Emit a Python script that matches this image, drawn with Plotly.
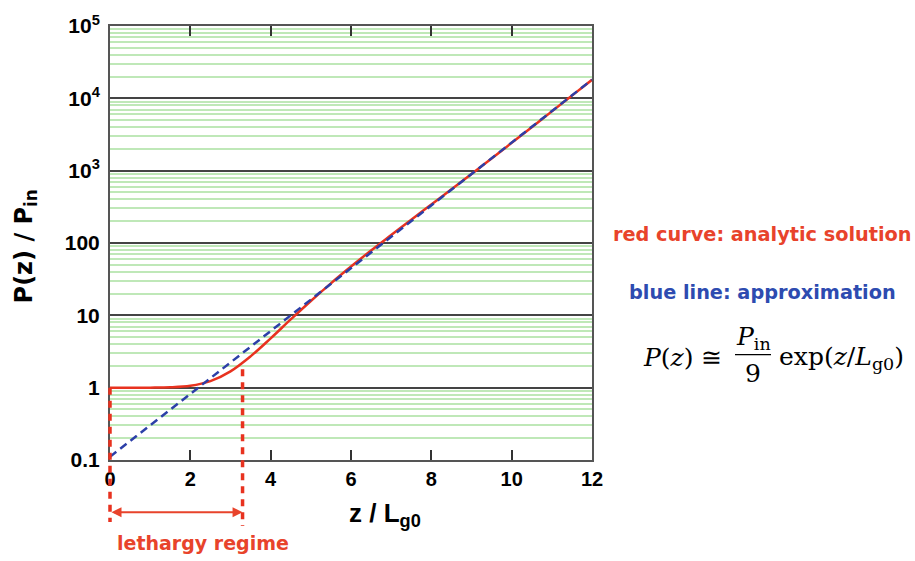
import plotly.graph_objects as go
import math

# analytic solution (red)
z_red = [0, 0.5, 1, 1.5, 2, 2.5, 3, 3.5, 4, 4.5, 5, 5.5, 6, 6.5, 7, 7.5, 8, 8.5, 9, 9.5, 10, 10.5, 11, 11.5, 12]
p_red = [1.0, 1.0, 1.001, 1.01, 1.06, 1.23, 1.68, 2.71, 4.81, 8.79, 15.8, 27.7, 47.2, 78.8, 129, 210, 341, 554, 902, 1475, 2425, 3995, 6600, 10900, 18030]
# approximation (blue dashed)
z_blue = [0, 12]
p_blue = [0.111, 18084]
# lethargy regime boundaries
leth_z = [0, 3.3]
leth_top = [1.0, 1.8]

y_tickvals = [0.1, 1, 10, 100, 1000, 10000, 100000]
y_ticktext = ["0.1", "1", "10", "100", "10<sup>3</sup>", "10<sup>4</sup>", "10<sup>5</sup>"]
x_tickvals = [0, 2, 4, 6, 8, 10, 12]
x_range = [0, 12]

RED = "#e8321f"
BLUE = "#2c3fa8"
TXTRED = "#e8432b"
TXTBLUE = "#2d4bb0"
SANS = "Liberation Sans, Arial, sans-serif"
WIDE = "DejaVu Sans, Liberation Sans, sans-serif"
SERIF = "DejaVu Serif, Liberation Serif, serif"

fig = go.Figure()
fig.add_trace(go.Scatter(x=z_red, y=p_red, mode="lines", line=dict(color=RED, width=2.5, shape="spline"), showlegend=False))
fig.add_trace(go.Scatter(x=z_blue, y=p_blue, mode="lines", line=dict(color=BLUE, width=2.5, dash="8px,5px"), showlegend=False))

fig.update_layout(
    width=915, height=561,
    margin=dict(l=110, r=323, t=19, b=101),
    paper_bgcolor="white", plot_bgcolor="white",
    font=dict(family=SANS, color="black"),
    xaxis=dict(range=x_range, tickvals=x_tickvals, ticktext=[f"<b>{v}</b>" for v in x_tickvals],
               ticks="inside", ticklen=10, tickwidth=1.5, tickcolor="#333", mirror="ticks",
               showline=True, linecolor="#555", linewidth=2, showgrid=False, zeroline=False,
               tickfont=dict(size=20, family=SANS)),
    yaxis=dict(type="log", range=[-1, 5], tickvals=y_tickvals, ticktext=[f"<b>{t}</b>" for t in y_ticktext],
               ticks="", showline=True, linecolor="#555", linewidth=2, mirror=True,
               showgrid=True, gridcolor="#444", gridwidth=1.5, zeroline=False,
               tickfont=dict(size=21, family=SANS), ticklabelstandoff=4,
               minor=dict(showgrid=True, dtick="D1", gridcolor="#bfe8b8", gridwidth=1.5, ticks="")),
)

def ypaper(v):
    return (math.log10(v) + 1) / 6

def xpaper(z):
    return (z - x_range[0]) / (x_range[1] - x_range[0])

def px(x):
    return (x - 110) / 482

def py(y):
    return (460 - y) / 441

# lethargy dashed verticals
bottoms = [py(523), py(527)]
for zz, top, bot in zip(leth_z, leth_top, bottoms):
    fig.add_shape(type="line", xref="paper", yref="paper", x0=xpaper(zz), x1=xpaper(zz), y0=ypaper(top), y1=bot,
                  layer="above", line=dict(color=RED, width=3.5, dash="7px,6px"))

fig.add_annotation(x=leth_z[1], y=py(513), xref="x", yref="paper", ax=leth_z[0], ay=0, axref="x", ayref="pixel",
                   text="", showarrow=True, arrowhead=2, startarrowhead=2, arrowside="end+start",
                   arrowwidth=2, arrowcolor=TXTRED, arrowsize=1, startarrowsize=1)
fig.add_annotation(x=px(203), y=py(544), xref="paper", yref="paper", showarrow=False,
                   xanchor="center", yanchor="middle",
                   text="<b>lethargy regime</b>", font=dict(size=19, color=TXTRED, family=WIDE))

# axis titles
fig.add_annotation(x=px(385), y=py(515), xref="paper", yref="paper", showarrow=False,
                   xanchor="center", yanchor="middle",
                   text="<b>z / L<sub>g0</sub></b>", font=dict(size=26, family=SANS))
fig.add_annotation(x=px(25), y=py(243), xref="paper", yref="paper", showarrow=False, textangle=-90,
                   xanchor="center", yanchor="middle",
                   text="<b>P(z) / P<sub>in</sub></b>", font=dict(size=24, family=WIDE))

# right-side labels
fig.add_annotation(x=px(762), y=py(231), xref="paper", yref="paper", showarrow=False,
                   xanchor="center", yanchor="middle",
                   text="<b>red curve: analytic solution</b>", font=dict(size=19.3, color=TXTRED, family=WIDE))
fig.add_annotation(x=px(762), y=py(290), xref="paper", yref="paper", showarrow=False,
                   xanchor="center", yanchor="middle",
                   text="<b>blue line: approximation</b>", font=dict(size=19.3, color=TXTBLUE, family=WIDE))

fig.add_annotation(x=px(724), y=py(356), xref="paper", yref="paper", showarrow=False,
                   xanchor="right", yanchor="middle",
                   text="<i>P</i>(<i>z</i>) ≅", font=dict(size=25, family=SERIF))
fig.add_annotation(x=px(753), y=py(336), xref="paper", yref="paper", showarrow=False,
                   xanchor="center", yanchor="middle",
                   text="<i>P</i><sub>in</sub>", font=dict(size=25, family=SERIF))
fig.add_annotation(x=px(753), y=py(372), xref="paper", yref="paper", showarrow=False,
                   xanchor="center", yanchor="middle",
                   text="9", font=dict(size=25, family=SERIF))
fig.add_shape(type="line", xref="paper", yref="paper", x0=px(735), x1=px(771),
              y0=py(353), y1=py(353), line=dict(color="black", width=1.2))
fig.add_annotation(x=px(777), y=py(356), xref="paper", yref="paper", showarrow=False,
                   xanchor="left", yanchor="middle",
                   text="exp(<i>z</i>/<i>L</i><sub>g0</sub>)", font=dict(size=25, family=SERIF))

fig.write_html("out.html")
